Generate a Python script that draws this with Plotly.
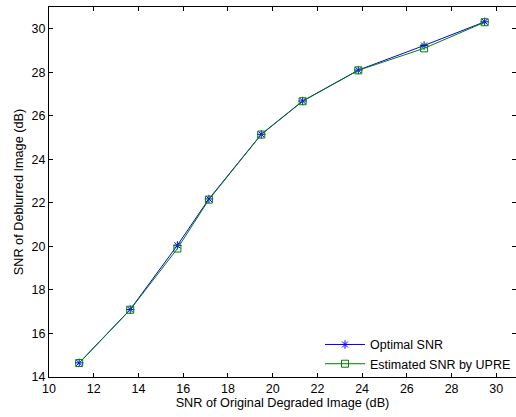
import plotly.graph_objects as go

x_degraded = [11.35, 13.63, 15.74, 17.15, 19.49, 21.34, 23.83, 26.77, 29.48]
y_optimal = [14.65, 17.10, 20.05, 22.18, 25.15, 26.68, 28.10, 29.23, 30.32]
y_upre = [14.64, 17.09, 19.90, 22.15, 25.14, 26.67, 28.09, 29.10, 30.30]

x_ticks = [10, 12, 14, 16, 18, 20, 22, 24, 26, 28, 30]
y_ticks = [14, 16, 18, 20, 22, 24, 26, 28, 30]

font = "Liberation Sans, Arial, Helvetica, sans-serif"

fig = go.Figure()
fig.add_trace(go.Scatter(
    x=x_degraded, y=y_optimal, mode="lines+markers", name="Optimal SNR",
    line=dict(color="#0000ff", width=1),
    marker=dict(symbol="asterisk-open", size=7, line=dict(color="#0000ff", width=1)),
))
fig.add_trace(go.Scatter(
    x=x_degraded, y=y_upre, mode="lines+markers", name="Estimated SNR by UPRE",
    line=dict(color="#008000", width=1),
    marker=dict(symbol="square-open", size=7, color="#008000", line=dict(color="#008000", width=1)),
))

axis_common = dict(
    showgrid=False, zeroline=False, showline=True, linecolor="black", linewidth=1,
    mirror="ticks", ticks="inside", ticklen=4, tickcolor="black",
    tickfont=dict(family=font, size=12.5, color="black"),
)
fig.update_xaxes(range=[10, 30.88], tickvals=x_ticks, ticktext=[str(v) for v in x_ticks],
                 title=dict(text="SNR of Original Degraded Image (dB)", font=dict(family=font, size=12.7, color="black"), standoff=3),
                 **axis_common)
fig.update_yaxes(range=[14, 31], tickvals=y_ticks, ticktext=[str(v) for v in y_ticks],
                 title=dict(text="SNR of Deblurred Image (dB)", font=dict(family=font, size=12.7, color="black"), standoff=5),
                 **axis_common)

fig.update_layout(
    width=516, height=417,
    margin=dict(l=49, r=0, t=7, b=40),
    plot_bgcolor="white", paper_bgcolor="white",
    font=dict(family=font, size=12.5, color="black"),
    legend=dict(x=1.0, y=-0.005, xanchor="right", yanchor="bottom",
                bgcolor="rgba(0,0,0,0)", borderwidth=0,
                font=dict(family=font, size=12.5, color="black"),
                tracegroupgap=0, itemwidth=40),
    showlegend=True,
)

fig.write_html("out.html")
